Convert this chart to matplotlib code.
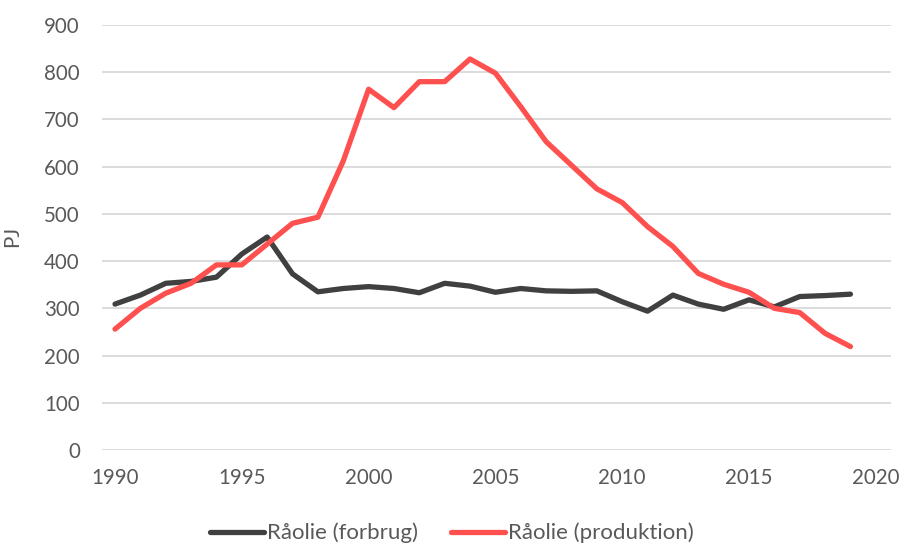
import matplotlib
matplotlib.use("Agg")
import matplotlib.pyplot as plt

years = list(range(1990, 2020))
forbrug = [309, 328, 353, 357, 366, 415, 451, 373, 335, 342,
           346, 342, 333, 353, 347, 334, 342, 337, 336, 337,
           314, 294, 328, 309, 298, 318, 303, 325, 327, 330]
produktion = [256, 300, 332, 353, 392, 392, 436, 480, 493, 612,
              764, 725, 780, 780, 828, 798, 727, 653, 603, 553,
              524, 473, 431, 374, 351, 334, 300, 291, 247, 219]
yticks = list(range(0, 1000, 100))
xticks = [1990, 1995, 2000, 2005, 2010, 2015, 2020]
label_forbrug = "Råolie (forbrug)"
label_produktion = "Råolie (produktion)"
ylabel = "PJ"

plt.rcParams['font.family'] = ['Lato', 'DejaVu Sans']
txt = '#595959'
fs = 14.8

fig = plt.figure(figsize=(9.03, 5.45), dpi=100)
ax = fig.add_axes([102/903, 1-450/545, (891-102)/903, (450-25)/545])

ax.plot(years, forbrug, color='#404040', lw=3.8, solid_capstyle='round',
        solid_joinstyle='round', label=label_forbrug, zorder=3)
ax.plot(years, produktion, color='#FF5050', lw=3.8, solid_capstyle='round',
        solid_joinstyle='round', label=label_produktion, zorder=3)

ax.set_ylim(0, 900)
ax.set_xlim(1990 - 13/25.36, 1990 + (891-115)/25.36)
ax.set_yticks(yticks)
ax.set_xticks(xticks)
ax.grid(axis='y', color='#D9D9D9', lw=1.3)
ax.set_axisbelow(True)
for s in ax.spines.values():
    s.set_visible(False)
ax.tick_params(axis='both', length=0, labelsize=fs, labelcolor=txt)
ax.tick_params(axis='y', pad=16)
ax.tick_params(axis='x', pad=13)
ax.set_ylabel(ylabel, fontsize=fs, color=txt)
ax.yaxis.set_label_coords((22-102)/789, (450-236)/425)

fig.legend(loc='center', bbox_to_anchor=(452/903, 1-533/545), ncol=2,
           frameon=False, fontsize=16, labelcolor=txt,
           handlelength=2.4, handletextpad=0.15, columnspacing=1.5)

fig.savefig('out.png', dpi=100)
